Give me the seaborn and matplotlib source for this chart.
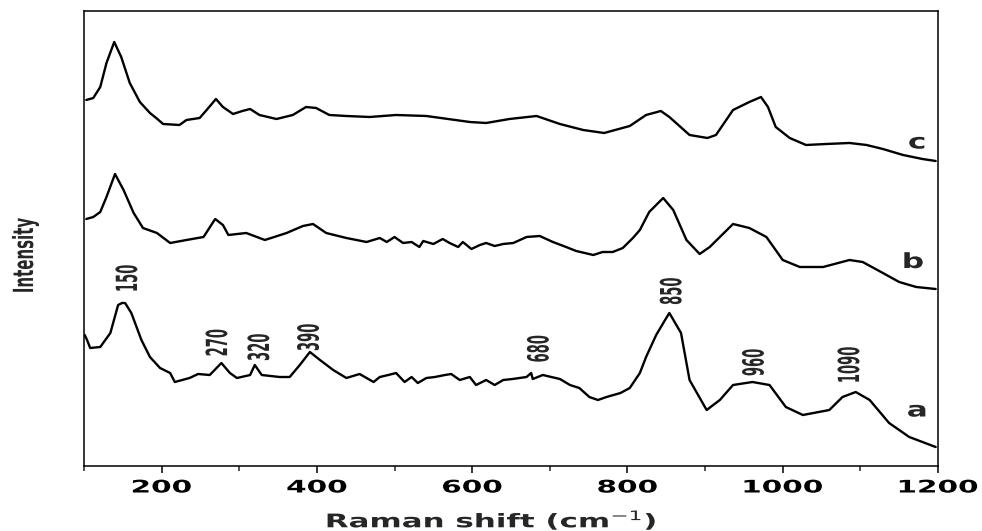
import pandas as pd
import seaborn as sns
import matplotlib.pyplot as plt
from matplotlib.patheffects import AbstractPathEffect
from matplotlib.transforms import Affine2D

# Raman spectra (stacked, offsets already included)
shift_a = [101, 104, 108, 121, 134, 144, 149, 153, 161, 174, 185, 198, 211, 217, 236, 247, 262, 277, 288, 297,
           314, 320, 329, 352, 365, 378, 391, 404, 421, 438, 455, 473,
           481, 492, 502, 513, 522, 530, 541, 552, 565, 573, 584, 597, 605, 618, 629, 640, 652, 670, 676, 678,
           691, 713, 726, 738, 751, 762, 773, 791, 803, 816,
           824, 837, 850, 854, 869, 880, 902, 919, 936, 961, 983, 1004, 1026, 1060, 1077, 1094, 1112, 1137, 1163, 1197]
int_a = [131, 126, 118, 119, 133, 161, 163, 163, 153, 126, 109, 98, 93, 84, 88, 92, 91, 103, 93, 88,
         91, 101, 91, 89, 89, 101, 114, 106, 96, 88, 92, 84,
         89, 91, 93, 84, 89, 83, 88, 89, 91, 92, 86, 89, 81, 86, 81, 86, 87, 89, 93, 87,
         91, 87, 81, 78, 69, 66, 69, 73, 78, 93,
         109, 131, 148, 153, 133, 86, 56, 66, 81, 84, 81, 59, 51, 56, 69, 74, 66, 43, 29, 19]

shift_b = [103, 112, 121, 129, 140, 151, 164, 176, 194, 211, 232, 254, 269, 279, 286, 309, 333, 361, 382, 395,
           412, 438, 464,
           481, 490, 500, 511, 522, 532, 537, 550, 562, 571, 582, 588, 599, 610, 618, 629, 640, 653, 670, 687,
           704, 721, 734, 756, 768, 781, 794, 807, 816,
           828, 846, 859, 876, 893, 906, 936, 957, 979, 1000, 1022, 1052, 1086, 1103, 1129, 1150, 1172, 1197]
int_b = [247, 249, 254, 269, 292, 276, 253, 238, 233, 223, 226, 229, 247, 241, 231, 233, 226, 233, 240, 242,
         233, 228, 224,
         228, 224, 229, 223, 224, 219, 225, 222, 227, 223, 219, 224, 217, 221, 223, 220, 222, 223, 229, 230,
         224, 219, 215, 211, 214, 214, 218, 228, 236,
         254, 268, 256, 226, 212, 219, 242, 238, 229, 206, 199, 199, 206, 204, 193, 184, 179, 177]

shift_c = [103, 112, 121, 129, 139, 148, 159, 172, 185, 193, 202, 223, 232, 249, 258, 270, 279, 292, 304, 314,
           326, 348, 369, 386, 399, 416, 438, 468, 502, 541, 597, 618, 648, 683, 713, 743, 770, 803, 824, 843,
           854, 880, 903, 914, 936, 957, 972, 981, 991, 1009, 1030, 1056, 1086, 1108, 1129, 1155, 1180, 1197]
int_c = [366, 368, 379, 403, 424, 409, 383, 364, 353, 348, 342, 341, 346, 348, 356, 367, 359, 352, 355, 357,
         351, 347, 351, 359, 358, 351, 350, 349, 351, 350, 344, 343, 347, 350, 342, 336, 333, 340, 351, 355,
         349, 331, 328, 331, 356, 364, 369, 359, 339, 328, 321, 322, 323, 321, 317, 311, 307, 305]

samples = ['a', 'b', 'c']
peak_labels = ['150', '270', '320', '390', '680', '850', '960', '1090']
major_ticks = [200, 400, 600, 800, 1000, 1200]
minor_ticks = [100, 300, 500, 700, 900, 1100]

# where the annotations sit (data coords)
peak_pos = [(158, 187), (274, 123), (328, 118.5), (392, 128.5), (688, 117), (859, 174.5), (965, 103.5), (1088, 100.5)]
sample_pos = [(1173, 55.5), (1168, 204), (1173, 323.5)]


class Stretch(AbstractPathEffect):
    # squeeze / widen glyphs along the text direction (the original uses condensed & extended faces)
    def __init__(self, sx=1.0, sy=1.0):
        super().__init__()
        self.sx, self.sy = sx, sy

    def draw_path(self, renderer, gc, tpath, affine, rgbFace=None):
        ext = tpath.get_extents()
        cx, cy = (ext.x0 + ext.x1) / 2, (ext.y0 + ext.y1) / 2
        st = Affine2D().translate(-cx, -cy).scale(self.sx, self.sy).translate(cx, cy)
        renderer.draw_path(gc, tpath, st + affine, rgbFace)


df = pd.concat([
    pd.DataFrame({'shift': shift_a, 'intensity': int_a, 'sample': 'a'}),
    pd.DataFrame({'shift': shift_b, 'intensity': int_b, 'sample': 'b'}),
    pd.DataFrame({'shift': shift_c, 'intensity': int_c, 'sample': 'c'}),
])

sns.set_theme(style='ticks')
plt.rcParams['font.family'] = ['DejaVu Sans']

fig = plt.figure(figsize=(9.82, 5.31), dpi=100)
ax = fig.add_axes([0.0855, 0.1224, 0.8697, 0.8569])

sns.lineplot(data=df, x='shift', y='intensity', hue='sample', units='sample', estimator=None, sort=False,
             palette={'a': 'black', 'b': 'black', 'c': 'black'}, linewidth=1.7, legend=False, ax=ax)

ax.set_xlim(100, 1200)
ax.set_ylim(0, 455)
ax.set_xticks(major_ticks)
ax.set_xticks(minor_ticks, minor=True)
ax.set_yticks([])
ax.tick_params(axis='x', which='major', direction='out', length=5, width=1.1, pad=4,
               labelsize=12.5, colors='black')
ax.tick_params(axis='x', which='minor', direction='out', length=3.5, width=1.1)
for lbl in ax.get_xticklabels():
    lbl.set_fontweight('bold')
    lbl.set_path_effects([Stretch(1.7, 1.0)])

for side in ['left', 'right', 'top', 'bottom']:
    ax.spines[side].set_visible(True)
    ax.spines[side].set_linewidth(1.1)
    ax.spines[side].set_color('black')

ax.set_xlabel('Raman shift (cm$^{-1}$)', fontsize=13.5, fontweight='bold', va='center',
              path_effects=[Stretch(1.65, 1.0)])
ax.xaxis.set_label_coords(0.477, -0.119)
ax.set_ylabel('Intensity', fontsize=20, fontweight='bold', va='center', path_effects=[Stretch(0.54, 1.0)])
ax.yaxis.set_label_coords(-0.069, 0.4615)

for txt, (x, y) in zip(peak_labels, peak_pos):
    ax.text(x, y, txt, rotation=90, ha='center', va='center', fontsize=21, fontweight='bold',
            path_effects=[Stretch(0.45, 1.0)])

for txt, (x, y) in zip(samples, sample_pos):
    ax.text(x, y, txt, ha='center', va='center', fontsize=15, fontweight='bold',
            path_effects=[Stretch(1.5, 1.0)])

fig.savefig('out.png', dpi=100)
